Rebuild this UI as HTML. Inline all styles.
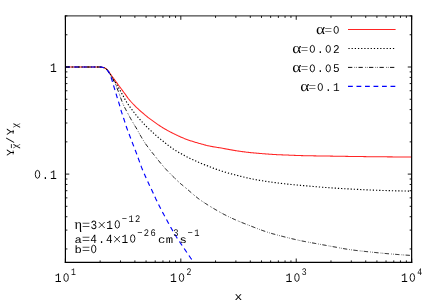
<!DOCTYPE html>
<html><head><meta charset="utf-8"><title>plot</title>
<style>
html,body{margin:0;padding:0;background:#fff;}
body{width:436px;height:305px;overflow:hidden;font-family:"Liberation Mono",monospace;}
svg{display:block;}
text{font-family:"Liberation Mono",monospace;fill:#000;text-anchor:middle;text-rendering:geometricPrecision;}
.s{font-family:"Liberation Serif",serif;}
.z{fill:none;stroke:#000;}
</style></head><body>
<svg width="436" height="305" viewBox="0 0 436 305">
<rect width="436" height="305" fill="#fff"/>
<defs><clipPath id="c"><rect x="65.4" y="15.9" width="346.25" height="246.50"/></clipPath></defs>

<g clip-path="url(#c)" fill="none">
<path d="M65.30,67.00 L65.99,67.00 L66.69,67.00 L67.38,67.00 L68.08,67.00 L68.77,67.00 L69.47,67.00 L70.16,67.00 L70.85,67.00 L71.55,67.00 L72.24,67.00 L72.94,67.00 L73.63,67.00 L74.32,67.00 L75.02,67.00 L75.71,67.00 L76.41,67.00 L77.10,67.00 L77.80,67.00 L78.49,67.00 L79.18,67.00 L79.88,67.00 L80.57,67.00 L81.27,67.00 L81.96,67.00 L82.65,67.00 L83.35,67.00 L84.04,67.00 L84.74,67.00 L85.43,67.00 L86.13,67.00 L86.82,67.00 L87.51,67.00 L88.21,67.00 L88.90,67.00 L89.60,67.00 L90.29,67.00 L90.98,67.00 L91.68,67.00 L92.37,67.00 L93.07,67.00 L93.76,67.00 L94.46,67.00 L95.15,67.00 L95.84,67.00 L96.54,67.00 L97.23,67.00 L97.93,67.00 L98.62,67.00 L99.32,67.00 L100.01,67.01 L100.70,67.06 L101.40,67.14 L102.09,67.24 L102.79,67.35 L103.48,67.53 L104.17,67.78 L104.87,68.09 L105.56,68.46 L106.26,68.87 L106.95,69.43 L107.65,70.21 L108.34,71.12 L109.03,72.08 L109.73,73.00 L110.42,73.96 L111.12,74.96 L111.81,75.97 L112.50,76.97 L113.20,77.93 L113.89,78.89 L114.59,79.84 L115.28,80.79 L115.98,81.74 L116.67,82.68 L117.36,83.63 L118.06,84.56 L118.75,85.50 L119.45,86.44 L120.14,87.37 L120.84,88.30 L121.53,89.23 L122.22,90.17 L122.92,91.10 L123.61,92.04 L124.31,92.97 L125.00,93.92 L125.69,94.90 L126.39,95.91 L127.08,96.91 L127.78,97.88 L128.47,98.77 L129.17,99.62 L129.86,100.44 L130.55,101.24 L131.25,102.01 L131.94,102.77 L132.64,103.51 L133.33,104.24 L134.02,104.96 L134.72,105.66 L135.41,106.35 L136.11,107.02 L136.80,107.69 L137.50,108.34 L138.19,108.99 L138.88,109.63 L139.58,110.25 L140.27,110.87 L140.97,111.48 L141.66,112.08 L142.35,112.68 L143.05,113.27 L143.74,113.86 L144.44,114.45 L145.13,115.03 L145.83,115.61 L146.52,116.18 L147.21,116.74 L147.91,117.29 L148.60,117.83 L149.30,118.37 L149.99,118.89 L150.69,119.40 L151.38,119.91 L152.07,120.41 L152.77,120.92 L153.46,121.42 L154.16,121.92 L154.85,122.42 L155.54,122.92 L156.24,123.41 L156.93,123.90 L157.63,124.38 L158.32,124.85 L159.02,125.31 L159.71,125.76 L160.40,126.21 L161.10,126.66 L161.79,127.09 L162.49,127.52 L163.18,127.95 L163.87,128.37 L164.57,128.78 L165.26,129.18 L165.96,129.58 L166.65,129.97 L167.35,130.36 L168.04,130.74 L168.73,131.12 L169.43,131.49 L170.12,131.86 L170.82,132.22 L171.51,132.57 L172.21,132.92 L172.90,133.26 L173.59,133.60 L174.29,133.94 L174.98,134.27 L175.68,134.60 L176.37,134.93 L177.06,135.26 L177.76,135.60 L178.45,135.93 L179.15,136.25 L179.84,136.58 L180.54,136.90 L181.23,137.21 L181.92,137.51 L182.62,137.81 L183.31,138.09 L184.01,138.37 L184.70,138.65 L185.39,138.92 L186.09,139.18 L186.78,139.44 L187.48,139.70 L188.17,139.94 L188.87,140.19 L189.56,140.43 L190.25,140.66 L190.95,140.88 L191.64,141.11 L192.34,141.33 L193.03,141.54 L193.72,141.75 L194.42,141.96 L195.11,142.17 L195.81,142.38 L196.50,142.59 L197.20,142.79 L197.89,142.99 L198.58,143.18 L199.28,143.38 L199.97,143.57 L200.67,143.77 L201.36,143.96 L202.06,144.16 L202.75,144.35 L203.44,144.55 L204.14,144.75 L204.83,144.94 L205.53,145.13 L206.22,145.32 L206.91,145.49 L207.61,145.66 L208.30,145.81 L209.00,145.96 L209.69,146.10 L210.39,146.23 L211.08,146.36 L211.77,146.49 L212.47,146.61 L213.16,146.74 L213.86,146.86 L214.55,146.98 L215.24,147.09 L215.94,147.20 L216.63,147.31 L217.33,147.41 L218.02,147.52 L218.72,147.63 L219.41,147.74 L220.10,147.85 L220.80,147.97 L221.49,148.09 L222.19,148.22 L222.88,148.35 L223.57,148.48 L224.27,148.61 L224.96,148.74 L225.66,148.86 L226.35,148.99 L227.05,149.12 L227.74,149.24 L228.43,149.37 L229.13,149.50 L229.82,149.63 L230.52,149.75 L231.21,149.88 L231.91,150.01 L232.60,150.13 L233.29,150.25 L233.99,150.37 L234.68,150.49 L235.38,150.61 L236.07,150.72 L236.76,150.83 L237.46,150.93 L238.15,151.04 L238.85,151.14 L239.54,151.24 L240.24,151.34 L240.93,151.43 L241.62,151.53 L242.32,151.62 L243.01,151.71 L243.71,151.81 L244.40,151.89 L245.09,151.98 L245.79,152.07 L246.48,152.15 L247.18,152.23 L247.87,152.31 L248.57,152.39 L249.26,152.47 L249.95,152.54 L250.65,152.62 L251.34,152.69 L252.04,152.75 L252.73,152.82 L253.43,152.89 L254.12,152.95 L254.81,153.02 L255.51,153.08 L256.20,153.14 L256.90,153.20 L257.59,153.26 L258.28,153.31 L258.98,153.37 L259.67,153.43 L260.37,153.48 L261.06,153.54 L261.76,153.59 L262.45,153.65 L263.14,153.70 L263.84,153.76 L264.53,153.81 L265.23,153.87 L265.92,153.92 L266.61,153.98 L267.31,154.03 L268.00,154.08 L268.70,154.14 L269.39,154.19 L270.09,154.24 L270.78,154.29 L271.47,154.34 L272.17,154.39 L272.86,154.43 L273.56,154.47 L274.25,154.52 L274.94,154.55 L275.64,154.59 L276.33,154.63 L277.03,154.66 L277.72,154.69 L278.42,154.72 L279.11,154.75 L279.80,154.78 L280.50,154.81 L281.19,154.83 L281.89,154.86 L282.58,154.89 L283.28,154.91 L283.97,154.94 L284.66,154.96 L285.36,154.99 L286.05,155.01 L286.75,155.04 L287.44,155.06 L288.13,155.09 L288.83,155.12 L289.52,155.15 L290.22,155.18 L290.91,155.21 L291.61,155.24 L292.30,155.27 L292.99,155.30 L293.69,155.33 L294.38,155.36 L295.08,155.39 L295.77,155.42 L296.46,155.45 L297.16,155.47 L297.85,155.50 L298.55,155.53 L299.24,155.55 L299.94,155.57 L300.63,155.59 L301.32,155.61 L302.02,155.63 L302.71,155.64 L303.41,155.66 L304.10,155.67 L304.79,155.69 L305.49,155.70 L306.18,155.72 L306.88,155.73 L307.57,155.75 L308.27,155.76 L308.96,155.77 L309.65,155.79 L310.35,155.80 L311.04,155.81 L311.74,155.82 L312.43,155.83 L313.13,155.84 L313.82,155.86 L314.51,155.87 L315.21,155.88 L315.90,155.89 L316.60,155.90 L317.29,155.91 L317.98,155.92 L318.68,155.93 L319.37,155.94 L320.07,155.95 L320.76,155.96 L321.46,155.97 L322.15,155.98 L322.84,155.99 L323.54,156.00 L324.23,156.01 L324.93,156.02 L325.62,156.03 L326.31,156.04 L327.01,156.05 L327.70,156.06 L328.40,156.07 L329.09,156.09 L329.79,156.10 L330.48,156.11 L331.17,156.12 L331.87,156.13 L332.56,156.14 L333.26,156.15 L333.95,156.17 L334.65,156.18 L335.34,156.19 L336.03,156.20 L336.73,156.21 L337.42,156.22 L338.12,156.23 L338.81,156.25 L339.50,156.26 L340.20,156.27 L340.89,156.28 L341.59,156.29 L342.28,156.30 L342.98,156.31 L343.67,156.32 L344.36,156.34 L345.06,156.35 L345.75,156.36 L346.45,156.37 L347.14,156.38 L347.83,156.39 L348.53,156.40 L349.22,156.41 L349.92,156.42 L350.61,156.43 L351.31,156.44 L352.00,156.45 L352.69,156.46 L353.39,156.47 L354.08,156.48 L354.78,156.49 L355.47,156.50 L356.16,156.51 L356.86,156.52 L357.55,156.53 L358.25,156.54 L358.94,156.55 L359.64,156.56 L360.33,156.57 L361.02,156.57 L361.72,156.58 L362.41,156.59 L363.11,156.60 L363.80,156.61 L364.50,156.62 L365.19,156.63 L365.88,156.64 L366.58,156.65 L367.27,156.66 L367.97,156.66 L368.66,156.67 L369.35,156.68 L370.05,156.69 L370.74,156.70 L371.44,156.71 L372.13,156.71 L372.83,156.72 L373.52,156.73 L374.21,156.74 L374.91,156.74 L375.60,156.75 L376.30,156.76 L376.99,156.76 L377.68,156.77 L378.38,156.78 L379.07,156.78 L379.77,156.79 L380.46,156.80 L381.16,156.80 L381.85,156.81 L382.54,156.81 L383.24,156.82 L383.93,156.83 L384.63,156.83 L385.32,156.84 L386.02,156.84 L386.71,156.85 L387.40,156.85 L388.10,156.86 L388.79,156.86 L389.49,156.87 L390.18,156.88 L390.87,156.88 L391.57,156.89 L392.26,156.89 L392.96,156.90 L393.65,156.90 L394.35,156.91 L395.04,156.91 L395.73,156.92 L396.43,156.92 L397.12,156.92 L397.82,156.93 L398.51,156.93 L399.20,156.94 L399.90,156.94 L400.59,156.95 L401.29,156.95 L401.98,156.95 L402.68,156.96 L403.37,156.96 L404.06,156.97 L404.76,156.97 L405.45,156.97 L406.15,156.98 L406.84,156.98 L407.53,156.98 L408.23,156.99 L408.92,156.99 L409.62,156.99 L410.31,156.99 L411.01,157.00 L411.70,157.00" stroke="#ff2424" stroke-width="1.05"/>
<path d="M65.30,67.00 L65.99,67.00 L66.69,67.00 L67.38,67.00 L68.08,67.00 L68.77,67.00 L69.47,67.00 L70.16,67.00 L70.85,67.00 L71.55,67.00 L72.24,67.00 L72.94,67.00 L73.63,67.00 L74.32,67.00 L75.02,67.00 L75.71,67.00 L76.41,67.00 L77.10,67.00 L77.80,67.00 L78.49,67.00 L79.18,67.00 L79.88,67.00 L80.57,67.00 L81.27,67.00 L81.96,67.00 L82.65,67.00 L83.35,67.00 L84.04,67.00 L84.74,67.00 L85.43,67.00 L86.13,67.00 L86.82,67.00 L87.51,67.00 L88.21,67.00 L88.90,67.00 L89.60,67.00 L90.29,67.00 L90.98,67.00 L91.68,67.00 L92.37,67.00 L93.07,67.00 L93.76,67.00 L94.46,67.00 L95.15,67.00 L95.84,67.00 L96.54,67.00 L97.23,67.00 L97.93,67.00 L98.62,67.00 L99.32,67.00 L100.01,67.01 L100.70,67.06 L101.40,67.14 L102.09,67.24 L102.79,67.35 L103.48,67.54 L104.17,67.81 L104.87,68.14 L105.56,68.53 L106.26,68.97 L106.95,69.57 L107.65,70.40 L108.34,71.39 L109.03,72.42 L109.73,73.43 L110.42,74.48 L111.12,75.59 L111.81,76.72 L112.50,77.85 L113.20,78.95 L113.89,80.06 L114.59,81.16 L115.28,82.28 L115.98,83.40 L116.67,84.55 L117.36,85.70 L118.06,86.86 L118.75,88.03 L119.45,89.22 L120.14,90.43 L120.84,91.66 L121.53,92.96 L122.22,94.27 L122.92,95.56 L123.61,96.85 L124.31,98.13 L125.00,99.37 L125.69,100.56 L126.39,101.69 L127.08,102.79 L127.78,103.86 L128.47,104.89 L129.17,105.91 L129.86,106.89 L130.55,107.85 L131.25,108.78 L131.94,109.69 L132.64,110.60 L133.33,111.50 L134.02,112.40 L134.72,113.29 L135.41,114.17 L136.11,115.03 L136.80,115.88 L137.50,116.71 L138.19,117.53 L138.88,118.34 L139.58,119.14 L140.27,119.92 L140.97,120.70 L141.66,121.46 L142.35,122.22 L143.05,122.96 L143.74,123.70 L144.44,124.43 L145.13,125.17 L145.83,125.89 L146.52,126.62 L147.21,127.33 L147.91,128.02 L148.60,128.69 L149.30,129.33 L149.99,129.95 L150.69,130.57 L151.38,131.19 L152.07,131.82 L152.77,132.46 L153.46,133.10 L154.16,133.74 L154.85,134.38 L155.54,135.01 L156.24,135.64 L156.93,136.25 L157.63,136.85 L158.32,137.44 L159.02,138.01 L159.71,138.56 L160.40,139.11 L161.10,139.66 L161.79,140.19 L162.49,140.73 L163.18,141.28 L163.87,141.82 L164.57,142.38 L165.26,142.94 L165.96,143.50 L166.65,144.07 L167.35,144.63 L168.04,145.19 L168.73,145.74 L169.43,146.27 L170.12,146.79 L170.82,147.30 L171.51,147.80 L172.21,148.29 L172.90,148.77 L173.59,149.25 L174.29,149.71 L174.98,150.17 L175.68,150.61 L176.37,151.04 L177.06,151.46 L177.76,151.86 L178.45,152.25 L179.15,152.64 L179.84,153.01 L180.54,153.39 L181.23,153.76 L181.92,154.13 L182.62,154.51 L183.31,154.89 L184.01,155.28 L184.70,155.66 L185.39,156.04 L186.09,156.43 L186.78,156.80 L187.48,157.17 L188.17,157.53 L188.87,157.88 L189.56,158.22 L190.25,158.56 L190.95,158.88 L191.64,159.20 L192.34,159.51 L193.03,159.83 L193.72,160.14 L194.42,160.45 L195.11,160.76 L195.81,161.08 L196.50,161.39 L197.20,161.71 L197.89,162.03 L198.58,162.34 L199.28,162.65 L199.97,162.96 L200.67,163.26 L201.36,163.54 L202.06,163.82 L202.75,164.08 L203.44,164.34 L204.14,164.59 L204.83,164.84 L205.53,165.10 L206.22,165.36 L206.91,165.62 L207.61,165.90 L208.30,166.18 L209.00,166.46 L209.69,166.75 L210.39,167.03 L211.08,167.31 L211.77,167.59 L212.47,167.85 L213.16,168.11 L213.86,168.36 L214.55,168.61 L215.24,168.86 L215.94,169.11 L216.63,169.36 L217.33,169.60 L218.02,169.84 L218.72,170.08 L219.41,170.32 L220.10,170.55 L220.80,170.78 L221.49,171.01 L222.19,171.23 L222.88,171.45 L223.57,171.67 L224.27,171.89 L224.96,172.10 L225.66,172.31 L226.35,172.51 L227.05,172.71 L227.74,172.91 L228.43,173.11 L229.13,173.30 L229.82,173.49 L230.52,173.68 L231.21,173.87 L231.91,174.06 L232.60,174.24 L233.29,174.42 L233.99,174.60 L234.68,174.78 L235.38,174.96 L236.07,175.14 L236.76,175.31 L237.46,175.49 L238.15,175.66 L238.85,175.84 L239.54,176.02 L240.24,176.19 L240.93,176.36 L241.62,176.54 L242.32,176.71 L243.01,176.88 L243.71,177.05 L244.40,177.22 L245.09,177.39 L245.79,177.55 L246.48,177.72 L247.18,177.88 L247.87,178.03 L248.57,178.19 L249.26,178.34 L249.95,178.49 L250.65,178.63 L251.34,178.77 L252.04,178.91 L252.73,179.05 L253.43,179.19 L254.12,179.32 L254.81,179.45 L255.51,179.59 L256.20,179.71 L256.90,179.84 L257.59,179.97 L258.28,180.09 L258.98,180.21 L259.67,180.33 L260.37,180.45 L261.06,180.57 L261.76,180.68 L262.45,180.80 L263.14,180.91 L263.84,181.02 L264.53,181.12 L265.23,181.23 L265.92,181.34 L266.61,181.44 L267.31,181.54 L268.00,181.64 L268.70,181.74 L269.39,181.84 L270.09,181.94 L270.78,182.03 L271.47,182.13 L272.17,182.22 L272.86,182.31 L273.56,182.41 L274.25,182.50 L274.94,182.59 L275.64,182.68 L276.33,182.77 L277.03,182.86 L277.72,182.95 L278.42,183.03 L279.11,183.12 L279.80,183.21 L280.50,183.29 L281.19,183.38 L281.89,183.46 L282.58,183.54 L283.28,183.63 L283.97,183.71 L284.66,183.79 L285.36,183.87 L286.05,183.94 L286.75,184.02 L287.44,184.10 L288.13,184.17 L288.83,184.25 L289.52,184.32 L290.22,184.39 L290.91,184.46 L291.61,184.53 L292.30,184.60 L292.99,184.66 L293.69,184.73 L294.38,184.80 L295.08,184.86 L295.77,184.93 L296.46,184.99 L297.16,185.05 L297.85,185.12 L298.55,185.18 L299.24,185.24 L299.94,185.30 L300.63,185.37 L301.32,185.43 L302.02,185.49 L302.71,185.55 L303.41,185.62 L304.10,185.68 L304.79,185.74 L305.49,185.80 L306.18,185.86 L306.88,185.92 L307.57,185.99 L308.27,186.05 L308.96,186.11 L309.65,186.17 L310.35,186.23 L311.04,186.29 L311.74,186.35 L312.43,186.41 L313.13,186.47 L313.82,186.53 L314.51,186.59 L315.21,186.65 L315.90,186.71 L316.60,186.77 L317.29,186.83 L317.98,186.88 L318.68,186.94 L319.37,187.00 L320.07,187.05 L320.76,187.11 L321.46,187.17 L322.15,187.22 L322.84,187.27 L323.54,187.33 L324.23,187.38 L324.93,187.43 L325.62,187.49 L326.31,187.54 L327.01,187.59 L327.70,187.64 L328.40,187.69 L329.09,187.74 L329.79,187.79 L330.48,187.83 L331.17,187.88 L331.87,187.93 L332.56,187.97 L333.26,188.02 L333.95,188.06 L334.65,188.11 L335.34,188.15 L336.03,188.20 L336.73,188.24 L337.42,188.29 L338.12,188.33 L338.81,188.37 L339.50,188.41 L340.20,188.46 L340.89,188.50 L341.59,188.54 L342.28,188.58 L342.98,188.62 L343.67,188.66 L344.36,188.70 L345.06,188.74 L345.75,188.78 L346.45,188.82 L347.14,188.86 L347.83,188.90 L348.53,188.94 L349.22,188.97 L349.92,189.01 L350.61,189.05 L351.31,189.08 L352.00,189.12 L352.69,189.16 L353.39,189.19 L354.08,189.23 L354.78,189.26 L355.47,189.30 L356.16,189.33 L356.86,189.37 L357.55,189.40 L358.25,189.44 L358.94,189.47 L359.64,189.51 L360.33,189.54 L361.02,189.57 L361.72,189.61 L362.41,189.64 L363.11,189.68 L363.80,189.71 L364.50,189.74 L365.19,189.78 L365.88,189.81 L366.58,189.84 L367.27,189.87 L367.97,189.90 L368.66,189.94 L369.35,189.97 L370.05,190.00 L370.74,190.03 L371.44,190.06 L372.13,190.09 L372.83,190.11 L373.52,190.14 L374.21,190.17 L374.91,190.20 L375.60,190.22 L376.30,190.25 L376.99,190.27 L377.68,190.30 L378.38,190.32 L379.07,190.35 L379.77,190.37 L380.46,190.39 L381.16,190.41 L381.85,190.43 L382.54,190.45 L383.24,190.47 L383.93,190.49 L384.63,190.51 L385.32,190.53 L386.02,190.55 L386.71,190.57 L387.40,190.59 L388.10,190.61 L388.79,190.63 L389.49,190.65 L390.18,190.67 L390.87,190.69 L391.57,190.71 L392.26,190.72 L392.96,190.74 L393.65,190.76 L394.35,190.78 L395.04,190.79 L395.73,190.81 L396.43,190.83 L397.12,190.84 L397.82,190.86 L398.51,190.87 L399.20,190.89 L399.90,190.91 L400.59,190.92 L401.29,190.93 L401.98,190.95 L402.68,190.96 L403.37,190.97 L404.06,190.99 L404.76,191.00 L405.45,191.01 L406.15,191.02 L406.84,191.03 L407.53,191.04 L408.23,191.06 L408.92,191.07 L409.62,191.07 L410.31,191.08 L411.01,191.09 L411.70,191.10" stroke="#000" stroke-width="1.15" stroke-dasharray="1.25 1.93"/>
<path d="M65.30,67.00 L65.99,67.00 L66.69,67.00 L67.38,67.00 L68.08,67.00 L68.77,67.00 L69.47,67.00 L70.16,67.00 L70.85,67.00 L71.55,67.00 L72.24,67.00 L72.94,67.00 L73.63,67.00 L74.32,67.00 L75.02,67.00 L75.71,67.00 L76.41,67.00 L77.10,67.00 L77.80,67.00 L78.49,67.00 L79.18,67.00 L79.88,67.00 L80.57,67.00 L81.27,67.00 L81.96,67.00 L82.65,67.00 L83.35,67.00 L84.04,67.00 L84.74,67.00 L85.43,67.00 L86.13,67.00 L86.82,67.00 L87.51,67.00 L88.21,67.00 L88.90,67.00 L89.60,67.00 L90.29,67.00 L90.98,67.00 L91.68,67.00 L92.37,67.00 L93.07,67.00 L93.76,67.00 L94.46,67.00 L95.15,67.00 L95.84,67.00 L96.54,67.00 L97.23,67.00 L97.93,67.00 L98.62,67.00 L99.32,67.00 L100.01,67.01 L100.70,67.06 L101.40,67.14 L102.09,67.24 L102.79,67.35 L103.48,67.55 L104.17,67.83 L104.87,68.18 L105.56,68.60 L106.26,69.07 L106.95,69.71 L107.65,70.60 L108.34,71.66 L109.03,72.77 L109.73,73.85 L110.42,74.98 L111.12,76.17 L111.81,77.39 L112.50,78.63 L113.20,79.85 L113.89,81.07 L114.59,82.37 L115.28,83.79 L115.98,85.38 L116.67,87.10 L117.36,88.90 L118.06,90.76 L118.75,92.61 L119.45,94.47 L120.14,96.40 L120.84,98.29 L121.53,100.20 L122.22,102.08 L122.92,103.81 L123.61,105.35 L124.31,106.77 L125.00,108.12 L125.69,109.43 L126.39,110.72 L127.08,112.04 L127.78,113.35 L128.47,114.64 L129.17,115.92 L129.86,117.18 L130.55,118.42 L131.25,119.64 L131.94,120.84 L132.64,122.03 L133.33,123.20 L134.02,124.37 L134.72,125.53 L135.41,126.67 L136.11,127.80 L136.80,128.96 L137.50,130.17 L138.19,131.44 L138.88,132.73 L139.58,134.00 L140.27,135.23 L140.97,136.42 L141.66,137.61 L142.35,138.78 L143.05,139.93 L143.74,141.05 L144.44,142.14 L145.13,143.20 L145.83,144.21 L146.52,145.19 L147.21,146.14 L147.91,147.07 L148.60,147.99 L149.30,148.89 L149.99,149.80 L150.69,150.70 L151.38,151.59 L152.07,152.47 L152.77,153.34 L153.46,154.21 L154.16,155.07 L154.85,155.94 L155.54,156.81 L156.24,157.68 L156.93,158.56 L157.63,159.43 L158.32,160.30 L159.02,161.17 L159.71,162.02 L160.40,162.87 L161.10,163.71 L161.79,164.54 L162.49,165.35 L163.18,166.15 L163.87,166.95 L164.57,167.73 L165.26,168.51 L165.96,169.28 L166.65,170.04 L167.35,170.79 L168.04,171.52 L168.73,172.25 L169.43,172.95 L170.12,173.64 L170.82,174.33 L171.51,175.00 L172.21,175.67 L172.90,176.34 L173.59,177.01 L174.29,177.68 L174.98,178.37 L175.68,179.05 L176.37,179.74 L177.06,180.42 L177.76,181.10 L178.45,181.76 L179.15,182.41 L179.84,183.04 L180.54,183.64 L181.23,184.22 L181.92,184.79 L182.62,185.34 L183.31,185.90 L184.01,186.45 L184.70,187.02 L185.39,187.60 L186.09,188.19 L186.78,188.79 L187.48,189.40 L188.17,190.01 L188.87,190.62 L189.56,191.22 L190.25,191.82 L190.95,192.41 L191.64,193.01 L192.34,193.61 L193.03,194.20 L193.72,194.79 L194.42,195.38 L195.11,195.97 L195.81,196.54 L196.50,197.11 L197.20,197.66 L197.89,198.21 L198.58,198.74 L199.28,199.25 L199.97,199.76 L200.67,200.25 L201.36,200.73 L202.06,201.20 L202.75,201.67 L203.44,202.13 L204.14,202.59 L204.83,203.05 L205.53,203.50 L206.22,203.95 L206.91,204.39 L207.61,204.83 L208.30,205.27 L209.00,205.71 L209.69,206.14 L210.39,206.56 L211.08,206.99 L211.77,207.41 L212.47,207.82 L213.16,208.24 L213.86,208.65 L214.55,209.06 L215.24,209.47 L215.94,209.87 L216.63,210.28 L217.33,210.68 L218.02,211.08 L218.72,211.48 L219.41,211.87 L220.10,212.26 L220.80,212.65 L221.49,213.03 L222.19,213.41 L222.88,213.78 L223.57,214.15 L224.27,214.51 L224.96,214.87 L225.66,215.23 L226.35,215.58 L227.05,215.92 L227.74,216.26 L228.43,216.60 L229.13,216.93 L229.82,217.26 L230.52,217.59 L231.21,217.91 L231.91,218.23 L232.60,218.55 L233.29,218.87 L233.99,219.18 L234.68,219.49 L235.38,219.79 L236.07,220.10 L236.76,220.40 L237.46,220.70 L238.15,220.99 L238.85,221.29 L239.54,221.58 L240.24,221.87 L240.93,222.15 L241.62,222.44 L242.32,222.71 L243.01,222.99 L243.71,223.27 L244.40,223.54 L245.09,223.81 L245.79,224.08 L246.48,224.35 L247.18,224.62 L247.87,224.89 L248.57,225.15 L249.26,225.42 L249.95,225.69 L250.65,225.96 L251.34,226.23 L252.04,226.51 L252.73,226.78 L253.43,227.05 L254.12,227.33 L254.81,227.60 L255.51,227.87 L256.20,228.14 L256.90,228.41 L257.59,228.68 L258.28,228.94 L258.98,229.20 L259.67,229.45 L260.37,229.71 L261.06,229.96 L261.76,230.21 L262.45,230.46 L263.14,230.71 L263.84,230.95 L264.53,231.20 L265.23,231.44 L265.92,231.67 L266.61,231.91 L267.31,232.14 L268.00,232.37 L268.70,232.59 L269.39,232.81 L270.09,233.02 L270.78,233.22 L271.47,233.43 L272.17,233.63 L272.86,233.82 L273.56,234.02 L274.25,234.21 L274.94,234.39 L275.64,234.58 L276.33,234.77 L277.03,234.95 L277.72,235.13 L278.42,235.31 L279.11,235.50 L279.80,235.68 L280.50,235.86 L281.19,236.04 L281.89,236.22 L282.58,236.40 L283.28,236.58 L283.97,236.75 L284.66,236.93 L285.36,237.10 L286.05,237.28 L286.75,237.45 L287.44,237.62 L288.13,237.79 L288.83,237.96 L289.52,238.13 L290.22,238.30 L290.91,238.47 L291.61,238.64 L292.30,238.81 L292.99,238.97 L293.69,239.14 L294.38,239.31 L295.08,239.47 L295.77,239.63 L296.46,239.79 L297.16,239.95 L297.85,240.11 L298.55,240.26 L299.24,240.41 L299.94,240.55 L300.63,240.70 L301.32,240.84 L302.02,240.98 L302.71,241.11 L303.41,241.25 L304.10,241.38 L304.79,241.51 L305.49,241.64 L306.18,241.77 L306.88,241.90 L307.57,242.03 L308.27,242.16 L308.96,242.29 L309.65,242.42 L310.35,242.55 L311.04,242.68 L311.74,242.81 L312.43,242.93 L313.13,243.06 L313.82,243.18 L314.51,243.31 L315.21,243.43 L315.90,243.56 L316.60,243.68 L317.29,243.81 L317.98,243.93 L318.68,244.06 L319.37,244.19 L320.07,244.31 L320.76,244.44 L321.46,244.56 L322.15,244.69 L322.84,244.82 L323.54,244.94 L324.23,245.07 L324.93,245.20 L325.62,245.32 L326.31,245.45 L327.01,245.57 L327.70,245.70 L328.40,245.83 L329.09,245.95 L329.79,246.08 L330.48,246.20 L331.17,246.33 L331.87,246.45 L332.56,246.58 L333.26,246.70 L333.95,246.83 L334.65,246.95 L335.34,247.08 L336.03,247.21 L336.73,247.34 L337.42,247.47 L338.12,247.60 L338.81,247.73 L339.50,247.86 L340.20,247.99 L340.89,248.12 L341.59,248.25 L342.28,248.38 L342.98,248.50 L343.67,248.63 L344.36,248.75 L345.06,248.87 L345.75,248.99 L346.45,249.10 L347.14,249.21 L347.83,249.32 L348.53,249.43 L349.22,249.53 L349.92,249.63 L350.61,249.73 L351.31,249.82 L352.00,249.92 L352.69,250.01 L353.39,250.10 L354.08,250.18 L354.78,250.27 L355.47,250.36 L356.16,250.44 L356.86,250.52 L357.55,250.61 L358.25,250.69 L358.94,250.77 L359.64,250.85 L360.33,250.92 L361.02,251.00 L361.72,251.08 L362.41,251.15 L363.11,251.23 L363.80,251.31 L364.50,251.38 L365.19,251.45 L365.88,251.53 L366.58,251.60 L367.27,251.67 L367.97,251.75 L368.66,251.82 L369.35,251.90 L370.05,251.97 L370.74,252.04 L371.44,252.11 L372.13,252.19 L372.83,252.26 L373.52,252.33 L374.21,252.40 L374.91,252.47 L375.60,252.54 L376.30,252.61 L376.99,252.68 L377.68,252.75 L378.38,252.82 L379.07,252.89 L379.77,252.96 L380.46,253.02 L381.16,253.09 L381.85,253.16 L382.54,253.22 L383.24,253.29 L383.93,253.35 L384.63,253.41 L385.32,253.48 L386.02,253.54 L386.71,253.60 L387.40,253.66 L388.10,253.72 L388.79,253.78 L389.49,253.84 L390.18,253.90 L390.87,253.96 L391.57,254.02 L392.26,254.07 L392.96,254.13 L393.65,254.19 L394.35,254.24 L395.04,254.30 L395.73,254.35 L396.43,254.41 L397.12,254.46 L397.82,254.52 L398.51,254.57 L399.20,254.62 L399.90,254.68 L400.59,254.73 L401.29,254.78 L401.98,254.83 L402.68,254.88 L403.37,254.93 L404.06,254.98 L404.76,255.03 L405.45,255.08 L406.15,255.13 L406.84,255.18 L407.53,255.23 L408.23,255.27 L408.92,255.32 L409.62,255.37 L410.31,255.41 L411.01,255.46 L411.70,255.50" stroke="#000" stroke-width="0.95" stroke-dasharray="4.3 2.2 0.6 1.3 0.6 1.5"/>
<path d="M65.30,67.00 L65.56,67.00 L65.81,67.00 L66.07,67.00 L66.33,67.00 L66.58,67.00 L66.84,67.00 L67.10,67.00 L67.36,67.00 L67.61,67.00 L67.87,67.00 L68.13,67.00 L68.38,67.00 L68.64,67.00 L68.90,67.00 L69.15,67.00 L69.41,67.00 L69.67,67.00 L69.92,67.00 L70.18,67.00 L70.44,67.00 L70.70,67.00 L70.95,67.00 L71.21,67.00 L71.47,67.00 L71.72,67.00 L71.98,67.00 L72.24,67.00 L72.49,67.00 L72.75,67.00 L73.01,67.00 L73.26,67.00 L73.52,67.00 L73.78,67.00 L74.04,67.00 L74.29,67.00 L74.55,67.00 L74.81,67.00 L75.06,67.00 L75.32,67.00 L75.58,67.00 L75.83,67.00 L76.09,67.00 L76.35,67.00 L76.60,67.00 L76.86,67.00 L77.12,67.00 L77.37,67.00 L77.63,67.00 L77.89,67.00 L78.15,67.00 L78.40,67.00 L78.66,67.00 L78.92,67.00 L79.17,67.00 L79.43,67.00 L79.69,67.00 L79.94,67.00 L80.20,67.00 L80.46,67.00 L80.71,67.00 L80.97,67.00 L81.23,67.00 L81.49,67.00 L81.74,67.00 L82.00,67.00 L82.26,67.00 L82.51,67.00 L82.77,67.00 L83.03,67.00 L83.28,67.00 L83.54,67.00 L83.80,67.00 L84.05,67.00 L84.31,67.00 L84.57,67.00 L84.83,67.00 L85.08,67.00 L85.34,67.00 L85.60,67.00 L85.85,67.00 L86.11,67.00 L86.37,67.00 L86.62,67.00 L86.88,67.00 L87.14,67.00 L87.39,67.00 L87.65,67.00 L87.91,67.00 L88.17,67.00 L88.42,67.00 L88.68,67.00 L88.94,67.00 L89.19,67.00 L89.45,67.00 L89.71,67.00 L89.96,67.00 L90.22,67.00 L90.48,67.00 L90.73,67.00 L90.99,67.00 L91.25,67.00 L91.51,67.00 L91.76,67.00 L92.02,67.00 L92.28,67.00 L92.53,67.00 L92.79,67.00 L93.05,67.00 L93.30,67.00 L93.56,67.00 L93.82,67.00 L94.07,67.00 L94.33,67.00 L94.59,67.00 L94.85,67.00 L95.10,67.00 L95.36,67.00 L95.62,67.00 L95.87,67.00 L96.13,67.00 L96.39,67.00 L96.64,67.00 L96.90,67.00 L97.16,67.00 L97.41,67.00 L97.67,67.00 L97.93,67.00 L98.18,67.00 L98.44,67.00 L98.70,67.00 L98.96,67.00 L99.21,67.00 L99.47,67.00 L99.73,67.00 L99.98,67.01 L100.24,67.02 L100.50,67.04 L100.75,67.06 L101.01,67.09 L101.27,67.12 L101.52,67.15 L101.78,67.19 L102.04,67.23 L102.30,67.27 L102.55,67.31 L102.81,67.36 L103.07,67.43 L103.32,67.51 L103.58,67.60 L103.84,67.71 L104.09,67.82 L104.35,67.95 L104.61,68.09 L104.86,68.24 L105.12,68.39 L105.38,68.56 L105.64,68.73 L105.89,68.91 L106.15,69.09 L106.41,69.28 L106.66,69.50 L106.92,69.74 L107.18,70.00 L107.43,70.29 L107.69,70.61 L107.95,70.95 L108.20,71.31 L108.46,71.69 L108.72,72.09 L108.98,72.52 L109.23,72.96 L109.49,73.42 L109.75,73.90 L110.00,74.42 L110.26,75.03 L110.52,75.72 L110.77,76.47 L111.03,77.25 L111.29,78.04 L111.54,78.83 L111.80,79.62 L112.06,80.44 L112.32,81.29 L112.57,82.15 L112.83,83.03 L113.09,83.91 L113.34,84.78 L113.60,85.63 L113.86,86.48 L114.11,87.33 L114.37,88.19 L114.63,89.04 L114.88,89.89 L115.14,90.74 L115.40,91.59 L115.66,92.45 L115.91,93.31 L116.17,94.16 L116.43,95.02 L116.68,95.87 L116.94,96.72 L117.20,97.56 L117.45,98.39 L117.71,99.21 L117.97,100.02 L118.22,100.82 L118.48,101.63 L118.74,102.45 L118.99,103.28 L119.25,104.14 L119.51,105.01 L119.77,105.91 L120.02,106.80 L120.28,107.71 L120.54,108.61 L120.79,109.50 L121.05,110.38 L121.31,111.25 L121.56,112.09 L121.82,112.90 L122.08,113.69 L122.33,114.47 L122.59,115.24 L122.85,116.00 L123.11,116.75 L123.36,117.50 L123.62,118.26 L123.88,119.03 L124.13,119.80 L124.39,120.59 L124.65,121.39 L124.90,122.19 L125.16,123.00 L125.42,123.81 L125.67,124.62 L125.93,125.41 L126.19,126.20 L126.45,126.97 L126.70,127.72 L126.96,128.45 L127.22,129.17 L127.47,129.87 L127.73,130.55 L127.99,131.23 L128.24,131.91 L128.50,132.58 L128.76,133.24 L129.01,133.91 L129.27,134.57 L129.53,135.25 L129.79,135.93 L130.04,136.61 L130.30,137.29 L130.56,137.97 L130.81,138.66 L131.07,139.34 L131.33,140.02 L131.58,140.70 L131.84,141.38 L132.10,142.06 L132.35,142.74 L132.61,143.41 L132.87,144.08 L133.13,144.74 L133.38,145.40 L133.64,146.06 L133.90,146.71 L134.15,147.36 L134.41,148.01 L134.67,148.66 L134.92,149.31 L135.18,149.97 L135.44,150.63 L135.69,151.30 L135.95,151.97 L136.21,152.65 L136.47,153.34 L136.72,154.03 L136.98,154.73 L137.24,155.44 L137.49,156.14 L137.75,156.85 L138.01,157.56 L138.26,158.27 L138.52,158.98 L138.78,159.69 L139.03,160.39 L139.29,161.11 L139.55,161.83 L139.81,162.56 L140.06,163.29 L140.32,164.02 L140.58,164.74 L140.83,165.46 L141.09,166.16 L141.35,166.84 L141.60,167.51 L141.86,168.16 L142.12,168.79 L142.37,169.41 L142.63,170.03 L142.89,170.63 L143.14,171.23 L143.40,171.82 L143.66,172.41 L143.92,172.99 L144.17,173.58 L144.43,174.16 L144.69,174.74 L144.94,175.33 L145.20,175.91 L145.46,176.49 L145.71,177.07 L145.97,177.64 L146.23,178.22 L146.48,178.79 L146.74,179.36 L147.00,179.92 L147.26,180.49 L147.51,181.05 L147.77,181.61 L148.03,182.17 L148.28,182.73 L148.54,183.29 L148.80,183.84 L149.05,184.39 L149.31,184.93 L149.57,185.47 L149.82,186.01 L150.08,186.55 L150.34,187.09 L150.60,187.62 L150.85,188.16 L151.11,188.70 L151.37,189.24 L151.62,189.78 L151.88,190.32 L152.14,190.87 L152.39,191.42 L152.65,191.97 L152.91,192.53 L153.16,193.09 L153.42,193.65 L153.68,194.21 L153.94,194.77 L154.19,195.33 L154.45,195.89 L154.71,196.45 L154.96,197.01 L155.22,197.56 L155.48,198.11 L155.73,198.66 L155.99,199.20 L156.25,199.74 L156.50,200.28 L156.76,200.82 L157.02,201.35 L157.28,201.89 L157.53,202.42 L157.79,202.95 L158.05,203.48 L158.30,204.00 L158.56,204.52 L158.82,205.04 L159.07,205.55 L159.33,206.06 L159.59,206.57 L159.84,207.07 L160.10,207.57 L160.36,208.07 L160.62,208.56 L160.87,209.05 L161.13,209.54 L161.39,210.02 L161.64,210.51 L161.90,210.99 L162.16,211.47 L162.41,211.95 L162.67,212.43 L162.93,212.90 L163.18,213.38 L163.44,213.86 L163.70,214.34 L163.95,214.82 L164.21,215.29 L164.47,215.77 L164.73,216.24 L164.98,216.71 L165.24,217.19 L165.50,217.66 L165.75,218.13 L166.01,218.60 L166.27,219.07 L166.52,219.54 L166.78,220.01 L167.04,220.49 L167.29,220.96 L167.55,221.43 L167.81,221.91 L168.07,222.39 L168.32,222.87 L168.58,223.34 L168.84,223.82 L169.09,224.30 L169.35,224.77 L169.61,225.24 L169.86,225.71 L170.12,226.18 L170.38,226.65 L170.63,227.11 L170.89,227.56 L171.15,228.02 L171.41,228.47 L171.66,228.92 L171.92,229.37 L172.18,229.82 L172.43,230.27 L172.69,230.72 L172.95,231.16 L173.20,231.60 L173.46,232.05 L173.72,232.48 L173.97,232.92 L174.23,233.35 L174.49,233.78 L174.75,234.21 L175.00,234.64 L175.26,235.06 L175.52,235.48 L175.77,235.90 L176.03,236.31 L176.29,236.72 L176.54,237.12 L176.80,237.53 L177.06,237.92 L177.31,238.32 L177.57,238.71 L177.83,239.11 L178.09,239.50 L178.34,239.88 L178.60,240.27 L178.86,240.65 L179.11,241.04 L179.37,241.42 L179.63,241.80 L179.88,242.19 L180.14,242.57 L180.40,242.95 L180.65,243.33 L180.91,243.72 L181.17,244.10 L181.43,244.48 L181.68,244.86 L181.94,245.24 L182.20,245.62 L182.45,246.00 L182.71,246.38 L182.97,246.76 L183.22,247.14 L183.48,247.51 L183.74,247.89 L183.99,248.27 L184.25,248.64 L184.51,249.02 L184.76,249.39 L185.02,249.77 L185.28,250.14 L185.54,250.52 L185.79,250.90 L186.05,251.27 L186.31,251.65 L186.56,252.03 L186.82,252.40 L187.08,252.78 L187.33,253.15 L187.59,253.53 L187.85,253.91 L188.10,254.28 L188.36,254.66 L188.62,255.03 L188.88,255.41 L189.13,255.78 L189.39,256.16 L189.65,256.53 L189.90,256.91 L190.16,257.28 L190.42,257.65 L190.67,258.03 L190.93,258.40 L191.19,258.77 L191.44,259.14 L191.70,259.51 L191.96,259.88 L192.22,260.26 L192.47,260.62 L192.73,260.99 L192.99,261.36 L193.24,261.73 L193.50,262.10" stroke="#0000ff" stroke-width="1.15" stroke-dasharray="4.8 3.7"/>
</g>
<path d="M65.40,262.4 v-3.9 M65.40,15.9 v3.9 M100.14,262.4 v-2.0 M100.14,15.9 v2.0 M120.47,262.4 v-2.0 M120.47,15.9 v2.0 M134.89,262.4 v-2.0 M134.89,15.9 v2.0 M146.07,262.4 v-2.0 M146.07,15.9 v2.0 M155.21,262.4 v-2.0 M155.21,15.9 v2.0 M162.94,262.4 v-2.0 M162.94,15.9 v2.0 M169.63,262.4 v-2.0 M169.63,15.9 v2.0 M175.54,262.4 v-2.0 M175.54,15.9 v2.0 M180.82,262.4 v-3.9 M180.82,15.9 v3.9 M215.56,262.4 v-2.0 M215.56,15.9 v2.0 M235.88,262.4 v-2.0 M235.88,15.9 v2.0 M250.30,262.4 v-2.0 M250.30,15.9 v2.0 M261.49,262.4 v-2.0 M261.49,15.9 v2.0 M270.63,262.4 v-2.0 M270.63,15.9 v2.0 M278.36,262.4 v-2.0 M278.36,15.9 v2.0 M285.05,262.4 v-2.0 M285.05,15.9 v2.0 M290.95,262.4 v-2.0 M290.95,15.9 v2.0 M296.23,262.4 v-3.9 M296.23,15.9 v3.9 M330.98,262.4 v-2.0 M330.98,15.9 v2.0 M351.30,262.4 v-2.0 M351.30,15.9 v2.0 M365.72,262.4 v-2.0 M365.72,15.9 v2.0 M376.91,262.4 v-2.0 M376.91,15.9 v2.0 M386.04,262.4 v-2.0 M386.04,15.9 v2.0 M393.77,262.4 v-2.0 M393.77,15.9 v2.0 M400.46,262.4 v-2.0 M400.46,15.9 v2.0 M406.37,262.4 v-2.0 M406.37,15.9 v2.0 M411.65,262.4 v-3.9 M411.65,15.9 v3.9 M65.4,248.96 h2.0 M411.65,248.96 h-2.0 M65.4,230.10 h2.0 M411.65,230.10 h-2.0 M65.4,216.72 h2.0 M411.65,216.72 h-2.0 M65.4,206.34 h2.0 M411.65,206.34 h-2.0 M65.4,197.86 h2.0 M411.65,197.86 h-2.0 M65.4,190.69 h2.0 M411.65,190.69 h-2.0 M65.4,184.48 h2.0 M411.65,184.48 h-2.0 M65.4,179.00 h2.0 M411.65,179.00 h-2.0 M65.4,174.10 h3.9 M411.65,174.10 h-3.9 M65.4,141.86 h2.0 M411.65,141.86 h-2.0 M65.4,123.00 h2.0 M411.65,123.00 h-2.0 M65.4,109.62 h2.0 M411.65,109.62 h-2.0 M65.4,99.24 h2.0 M411.65,99.24 h-2.0 M65.4,90.76 h2.0 M411.65,90.76 h-2.0 M65.4,83.59 h2.0 M411.65,83.59 h-2.0 M65.4,77.38 h2.0 M411.65,77.38 h-2.0 M65.4,71.90 h2.0 M411.65,71.90 h-2.0 M65.4,67.00 h3.9 M411.65,67.00 h-3.9 M65.4,34.76 h2.0 M411.65,34.76 h-2.0 M65.4,15.90 h2.0 M411.65,15.90 h-2.0" stroke="#000" stroke-width="0.9" fill="none"/>
<path d="M65.4,15.4 V263.0 M411.65,15.4 V263.0" stroke="#000" stroke-width="1.2" fill="none"/>
<path d="M64.80000000000001,262.4 H412.25" stroke="#000" stroke-width="1.2" fill="none"/>
<path d="M64.80000000000001,15.9 H412.25" stroke="#000" stroke-width="0.9" fill="none"/>
<path d="M348,29.4 H395.6" stroke="#ff2424" stroke-width="1.05"/>
<path d="M348.4,48.5 H395.6" stroke="#000" stroke-width="1.15" stroke-dasharray="1.25 1.93"/>
<path d="M348,67.4 H395.6" stroke="#000" stroke-width="0.95" stroke-dasharray="4.3 2.2 0.6 1.3 0.6 1.5"/>
<path d="M348,86.4 H395.6" stroke="#0000ff" stroke-width="1.15" stroke-dasharray="4.8 3.7"/>
<g opacity="0.999">
<text stroke="#fff" stroke-width="0.25" transform="translate(328.25,33.80) scale(1.130,1)" font-size="11.84">=</text>
<ellipse class="z" cx="336.20" cy="29.90" rx="2.20" ry="3.55" stroke-width="0.9"/>
<text class="s" transform="translate(320.60,33.80) scale(1.16,1)" font-size="15">α</text>
<text stroke="#fff" stroke-width="0.25" transform="translate(304.40,52.80) scale(1.130,1)" font-size="11.84">=</text>
<ellipse class="z" cx="312.35" cy="48.90" rx="2.20" ry="3.55" stroke-width="0.9"/>
<text transform="translate(320.30,52.80) scale(0.937,1)" font-size="11.84">.</text>
<ellipse class="z" cx="328.25" cy="48.90" rx="2.20" ry="3.55" stroke-width="0.9"/>
<text transform="translate(336.20,52.80) scale(0.937,1)" font-size="11.84">2</text>
<text class="s" transform="translate(296.75,52.80) scale(1.16,1)" font-size="15">α</text>
<text stroke="#fff" stroke-width="0.25" transform="translate(304.40,72.20) scale(1.130,1)" font-size="11.84">=</text>
<ellipse class="z" cx="312.35" cy="68.30" rx="2.20" ry="3.55" stroke-width="0.9"/>
<text transform="translate(320.30,72.20) scale(0.937,1)" font-size="11.84">.</text>
<ellipse class="z" cx="328.25" cy="68.30" rx="2.20" ry="3.55" stroke-width="0.9"/>
<text transform="translate(336.20,72.20) scale(0.937,1)" font-size="11.84">5</text>
<text class="s" transform="translate(296.75,72.20) scale(1.16,1)" font-size="15">α</text>
<text stroke="#fff" stroke-width="0.25" transform="translate(312.35,90.90) scale(1.130,1)" font-size="11.84">=</text>
<ellipse class="z" cx="320.30" cy="87.00" rx="2.20" ry="3.55" stroke-width="0.9"/>
<text transform="translate(328.25,90.90) scale(0.937,1)" font-size="11.84">.</text>
<text transform="translate(336.20,90.90) scale(0.937,1)" font-size="11.84">1</text>
<text class="s" transform="translate(304.70,90.90) scale(1.16,1)" font-size="15">α</text>
<text transform="translate(53.40,71.70) scale(0.866,1)" font-size="13.05">1</text>
<ellipse class="z" cx="37.50" cy="174.30" rx="2.25" ry="3.95" stroke-width="0.9"/>
<text transform="translate(45.40,178.60) scale(0.866,1)" font-size="13.05">.</text>
<text transform="translate(53.30,178.60) scale(0.866,1)" font-size="13.05">1</text>
<text transform="translate(58.10,281.80) scale(0.866,1)" font-size="13.05">1</text>
<ellipse class="z" cx="66.10" cy="277.50" rx="2.25" ry="3.95" stroke-width="0.9"/>
<text transform="translate(73.40,274.80) scale(0.815,1)" font-size="10.02">1</text>
<text transform="translate(173.52,281.80) scale(0.866,1)" font-size="13.05">1</text>
<ellipse class="z" cx="181.52" cy="277.50" rx="2.25" ry="3.95" stroke-width="0.9"/>
<text transform="translate(188.82,274.80) scale(0.815,1)" font-size="10.02">2</text>
<text transform="translate(288.93,281.80) scale(0.866,1)" font-size="13.05">1</text>
<ellipse class="z" cx="296.93" cy="277.50" rx="2.25" ry="3.95" stroke-width="0.9"/>
<text transform="translate(304.23,274.80) scale(0.815,1)" font-size="10.02">3</text>
<text transform="translate(404.35,281.80) scale(0.866,1)" font-size="13.05">1</text>
<ellipse class="z" cx="412.35" cy="277.50" rx="2.25" ry="3.95" stroke-width="0.9"/>
<text transform="translate(419.65,274.80) scale(0.815,1)" font-size="10.02">4</text>
<text transform="translate(238.5,300) scale(1.2,1)" font-size="10.8">x</text>
<g transform="translate(13.5,141.5) rotate(-90)">
<text transform="translate(-10.95,0) scale(1.06,1)" font-size="10.9">Y</text><path d="M-12.9,-0.35 h3.9 M7.65,-0.35 h3.9" stroke="#000" stroke-width="0.7"/>
<text class="s" transform="translate(-4.6,4.3) scale(1.05,1)" font-size="10">χ</text><path d="M-6.6,-2.1 h4" stroke="#000" stroke-width="0.8"/>
<text transform="translate(1.1,0) scale(1.06,1)" font-size="10.9">/</text>
<text transform="translate(9.6,0) scale(1.06,1)" font-size="10.9">Y</text>
<text class="s" transform="translate(16.1,4.3) scale(1.05,1)" font-size="10">χ</text>
</g>
<text class="s" x="78.2" y="228.5" font-size="14.5">η</text>
<text stroke="#fff" stroke-width="0.25" transform="translate(86.10,228.50) scale(1.130,1)" font-size="12.59">=</text>
<text transform="translate(93.90,228.50) scale(0.880,1)" font-size="12.59">3</text>
<path d="M98.80,222.10 L104.60,227.90 M98.80,227.90 L104.60,222.10" stroke="#000" stroke-width="0.85" fill="none"/>
<text transform="translate(109.50,228.50) scale(0.880,1)" font-size="12.59">1</text>
<ellipse class="z" cx="117.30" cy="224.35" rx="2.20" ry="3.80" stroke-width="0.9"/>
<text transform="translate(124.50,221.80) scale(0.877,1)" font-size="10.02">−</text>
<text transform="translate(131.10,221.80) scale(0.877,1)" font-size="10.02">1</text>
<text transform="translate(137.70,221.80) scale(0.877,1)" font-size="10.02">2</text>
<text transform="translate(78.10,242.70) scale(1.160,1)" font-size="10.58">a</text>
<text stroke="#fff" stroke-width="0.25" transform="translate(85.90,242.70) scale(1.130,1)" font-size="12.59">=</text>
<text transform="translate(93.70,242.70) scale(0.880,1)" font-size="12.59">4</text>
<text transform="translate(101.50,242.70) scale(0.880,1)" font-size="12.59">.</text>
<text transform="translate(109.30,242.70) scale(0.880,1)" font-size="12.59">4</text>
<path d="M114.20,236.30 L120.00,242.10 M114.20,242.10 L120.00,236.30" stroke="#000" stroke-width="0.85" fill="none"/>
<text transform="translate(124.90,242.70) scale(0.880,1)" font-size="12.59">1</text>
<ellipse class="z" cx="132.70" cy="238.55" rx="2.20" ry="3.80" stroke-width="0.9"/>
<text transform="translate(139.90,235.90) scale(0.877,1)" font-size="10.02">−</text>
<text transform="translate(146.50,235.90) scale(0.877,1)" font-size="10.02">2</text>
<text transform="translate(153.10,235.90) scale(0.877,1)" font-size="10.02">6</text>
<text transform="translate(161.70,242.70) scale(1.160,1)" font-size="10.58">c</text>
<text transform="translate(169.50,242.70) scale(1.160,1)" font-size="10.58">m</text>
<text transform="translate(176.00,235.90) scale(0.877,1)" font-size="10.02">3</text>
<text transform="translate(183.30,242.70) scale(1.160,1)" font-size="10.58">s</text>
<text transform="translate(190.20,235.90) scale(0.877,1)" font-size="10.02">−</text>
<text transform="translate(196.80,235.90) scale(0.877,1)" font-size="10.02">1</text>
<text transform="translate(78.10,253.10) scale(1.160,1)" font-size="10.58">b</text>
<text stroke="#fff" stroke-width="0.25" transform="translate(85.90,253.10) scale(1.130,1)" font-size="12.59">=</text>
<ellipse class="z" cx="93.70" cy="248.95" rx="2.20" ry="3.80" stroke-width="0.9"/>
</g>
</svg></body></html>
